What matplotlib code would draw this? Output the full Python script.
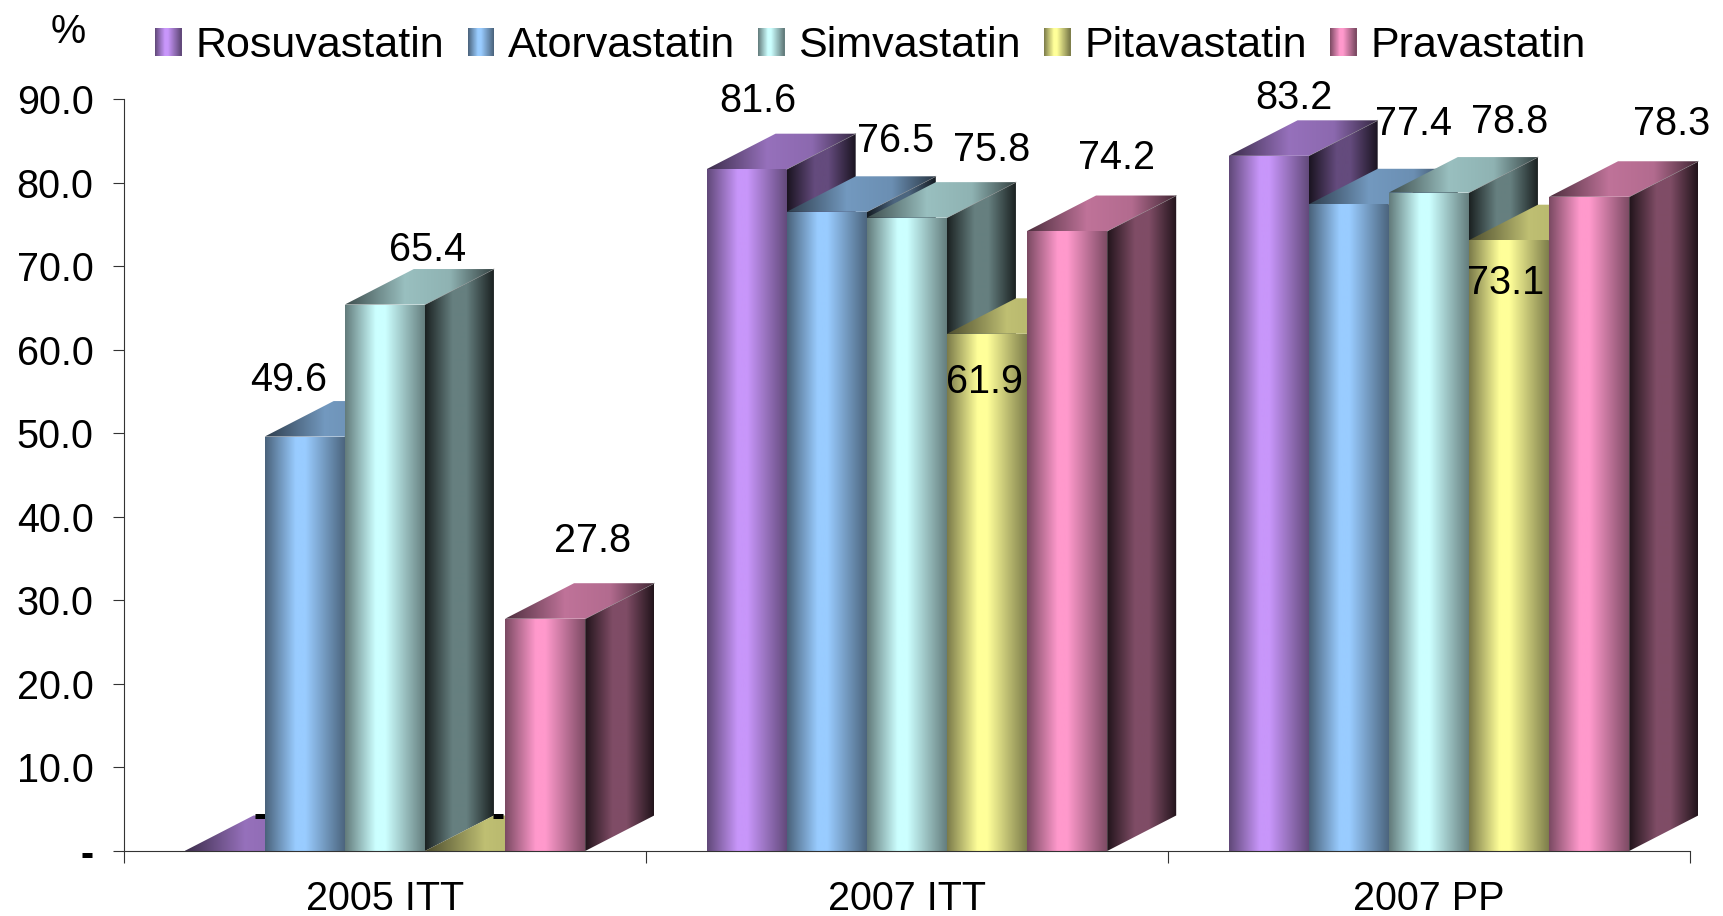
import numpy as np
import matplotlib
matplotlib.use('Agg')
import matplotlib.pyplot as plt
from matplotlib.colors import LinearSegmentedColormap, to_rgb
from matplotlib.legend_handler import HandlerBase
from matplotlib.patches import Patch, Polygon, Rectangle

plt.rcParams['font.family'] = ['Liberation Sans', 'DejaVu Sans']

groups = ['2005 ITT', '2007 ITT', '2007 PP']
drugs = ['Rosuvastatin', 'Atorvastatin', 'Simvastatin', 'Pitavastatin', 'Pravastatin']
rosuvastatin = [0, 81.6, 83.2]
atorvastatin = [49.6, 76.5, 77.4]
simvastatin = [65.4, 75.8, 78.8]
pitavastatin = [0, 61.9, 73.1]
pravastatin = [27.8, 74.2, 78.3]
y_ticks = [0, 10, 20, 30, 40, 50, 60, 70, 80, 90]
y_labels = ['-', '10.0', '20.0', '30.0', '40.0', '50.0', '60.0', '70.0', '80.0', '90.0']

series = [rosuvastatin, atorvastatin, simvastatin, pitavastatin, pravastatin]
colors = ['#C896FA', '#99CCFF', '#CCFFFF', '#FFFF99', '#FF99CC']

# label offsets in pixels from the middle of each bar's front top edge, by (series, group)
nudges = {
    (0, 0): (35, 35), (1, 0): (-16, 57), (2, 0): (43, 55), (3, 0): (33, 35), (4, 0): (47, 78),
    (0, 1): (11, 68), (1, 1): (69, 71), (2, 1): (85, 68), (3, 1): (-2, -48), (4, 1): (49, 73),
    (0, 2): (25, 58), (1, 2): (65, 80), (2, 2): (81, 71), (3, 2): (-3, -43), (4, 2): (83, 73),
}

W, H = 1724, 916
LEFT, RIGHT, TOP, BASE = 124, 1690, 99, 851
bar_w = 0.1535
start = 0.116
depth_x = 69 / 522
depth_y = 35.5 / (BASE - TOP) * 90
FS = 28.5


def shade(color, k):
    return tuple(c * k for c in to_rgb(color))


def ramp(color, stops):
    return LinearSegmentedColormap.from_list('r', [(p, shade(color, k)) for p, k in stops])


def front_map(c):
    return ramp(c, [(0, .48), (.38, 1), (.5, 1), (1, .48)])


def side_map(c):
    return ramp(c, [(0, .13), (.4, .5), (.6, .5), (1, .13)])


def top_map(c):
    return ramp(c, [(0, .3), (.4, .75), (.7, .7), (1, .25)])


def face(ax, pts, cmap, z):
    pts = np.array(pts)
    xs, ys = pts[:, 0], pts[:, 1]
    im = ax.imshow(np.linspace(0, 1, 256)[None, :], cmap=cmap, aspect='auto', interpolation='bilinear',
                   extent=(xs.min(), xs.max(), ys.min(), max(ys.max(), ys.min() + 1e-6)), zorder=z)
    im.set_clip_box(ax.figure.bbox)
    im.set_clip_path(Polygon(pts, transform=ax.transData))


class GradientHandle(HandlerBase):
    def create_artists(self, legend, orig, xd, yd, width, height, fontsize, trans):
        cmap = front_map(orig.get_facecolor())
        n = 26
        return [Rectangle((-xd + width * i / n, -yd), width / n + .3, height, color=cmap((i + .5) / n),
                          lw=0, transform=trans) for i in range(n)]


fig = plt.figure(figsize=(W / 100, H / 100), dpi=100)
ax = fig.add_axes([LEFT / W, 1 - BASE / H, (RIGHT - LEFT) / W, (BASE - TOP) / H])

z = 3
for g in range(len(groups)):
    for s, vals in enumerate(series):
        v = vals[g]
        c = colors[s]
        x0 = g + start + s * bar_w
        x1 = x0 + bar_w
        if v > 0:
            face(ax, [(x0, 0), (x1, 0), (x1, v), (x0, v)], front_map(c), z)
            face(ax, [(x1, 0), (x1 + depth_x, depth_y), (x1 + depth_x, v + depth_y), (x1, v)], side_map(c), z)
            ax.plot([x1, x1 + depth_x], [v, v + depth_y], color='#999999', lw=.6, zorder=z, clip_on=False)
        face(ax, [(x0, v), (x1, v), (x1 + depth_x, v + depth_y), (x0 + depth_x, v + depth_y)], top_map(c), z)
        ax.annotate(f'{v:.1f}' if v > 0 else '-', xy=(x0 + bar_w / 2, v), xytext=nudges[(s, g)],
                    textcoords='offset pixels', ha='center', va='center', fontsize=FS, color='black',
                    fontweight='normal' if v > 0 else 'bold', zorder=z + .5, annotation_clip=False)
        z += 1

ax.set_xlim(0, 3)
ax.set_ylim(0, 90)
ax.patch.set_visible(False)
for side in ['top', 'right']:
    ax.spines[side].set_visible(False)
ax.spines['left'].set_color('#333333')
ax.spines['bottom'].set_color('#333333')
ax.spines['left'].set_linewidth(.8)
ax.spines['bottom'].set_linewidth(.8)
ax.spines['left'].set_zorder(100)
ax.spines['bottom'].set_zorder(100)

ax.set_yticks(y_ticks)
ax.set_yticklabels(y_labels)
ax.get_yticklabels()[0].set_fontweight('bold')
ax.set_xticks([0, 1, 2, 3])
ax.set_xticklabels([])
ax.set_xticks([.5, 1.5, 2.5], minor=True)
ax.set_xticklabels(groups, minor=True)
ax.tick_params(axis='y', length=8, width=.8, color='#333333', pad=14, labelsize=FS)
ax.tick_params(axis='x', which='major', length=8.5, width=.8, color='#333333')
ax.tick_params(axis='x', which='minor', length=0, pad=21, labelsize=FS)

fig.text(68 / W, 1 - 32 / H, '%', ha='center', va='center', fontsize=FS)

handles = [Patch(facecolor=c, label=d) for c, d in zip(colors, drugs)]
LEG = 31
em = LEG * 100 / 72
ax.legend(handles=handles, handler_map={Patch: GradientHandle()}, ncol=5, frameon=False, fontsize=LEG,
          loc='center left', bbox_to_anchor=(155.5 / W, 1 - 46 / H), bbox_transform=fig.transFigure,
          borderpad=0, borderaxespad=0, handlelength=26 / em, handleheight=26 / em,
          handletextpad=14 / em, columnspacing=23.5 / em)

fig.savefig('out.png', dpi=100)
